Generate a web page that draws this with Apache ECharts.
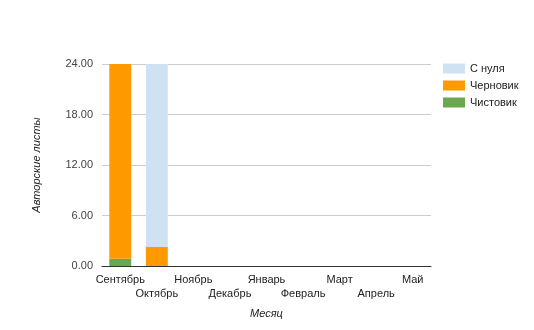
<!DOCTYPE html>
<html><head><meta charset="utf-8">
<script src="https://cdn.jsdelivr.net/npm/echarts@6/dist/echarts.min.js"></script>
<style>html,body{margin:0;padding:0;background:#fff}#c{width:534px;height:330px}</style>
</head><body><div id="c"></div>
<script>
const months = ['Сентябрь','Октябрь','Ноябрь','Декабрь','Январь','Февраль','Март','Апрель','Май'];
const chistovik = [0.87, 0, 0, 0, 0, 0, 0, 0, 0];
const chernovik = [23.13, 2.26, 0, 0, 0, 0, 0, 0, 0];
const sNulya = [0, 21.74, 0, 0, 0, 0, 0, 0, 0];
const yTicks = [0, 6, 12, 18, 24];

const chart = echarts.init(document.getElementById('c'));
const font = 'Arial, "Liberation Sans", sans-serif';
chart.setOption({
  animation: false,
  grid: {left: 102, right: 103, top: 64, bottom: 64},
  legend: {
    left: 443, top: 63, orient: 'vertical', itemWidth: 22, itemHeight: 10, itemGap: 6,
    padding: 0, icon: 'rect',
    textStyle: {fontFamily: font, fontSize: 11, color: '#222'},
    data: ['С нуля', 'Черновик', 'Чистовик']
  },
  xAxis: {
    type: 'category', data: months,
    name: 'Месяц', nameLocation: 'middle', nameGap: 42,
    nameTextStyle: {fontFamily: font, fontSize: 11, fontStyle: 'italic', color: '#222'},
    axisLine: {lineStyle: {color: '#333'}},
    axisTick: {show: false},
    axisLabel: {interval: 0, fontFamily: font, fontSize: 11, color: '#222', margin: 7, lineHeight: 14,
      formatter: (v, i) => (i % 2 ? '\n' + v : v)}
  },
  yAxis: {
    type: 'value', min: yTicks[0], max: yTicks[yTicks.length-1], interval: 6,
    name: 'Авторские листы', nameLocation: 'middle', nameGap: 60,
    nameTextStyle: {fontFamily: font, fontSize: 11, fontStyle: 'italic', color: '#222'},
    axisLine: {show: false}, axisTick: {show: false},
    splitLine: {lineStyle: {color: '#ccc'}},
    axisLabel: {fontFamily: font, fontSize: 11, color: '#444', margin: 9, formatter: v => v.toFixed(2)}
  },
  series: [
    {name: 'Чистовик', type: 'bar', stack: 's', data: chistovik, barWidth: '60%', itemStyle: {color: '#6aa84f'}},
    {name: 'Черновик', type: 'bar', stack: 's', data: chernovik, itemStyle: {color: '#ff9900'}},
    {name: 'С нуля', type: 'bar', stack: 's', data: sNulya, itemStyle: {color: '#cfe2f3'}}
  ]
});
</script></body></html>
